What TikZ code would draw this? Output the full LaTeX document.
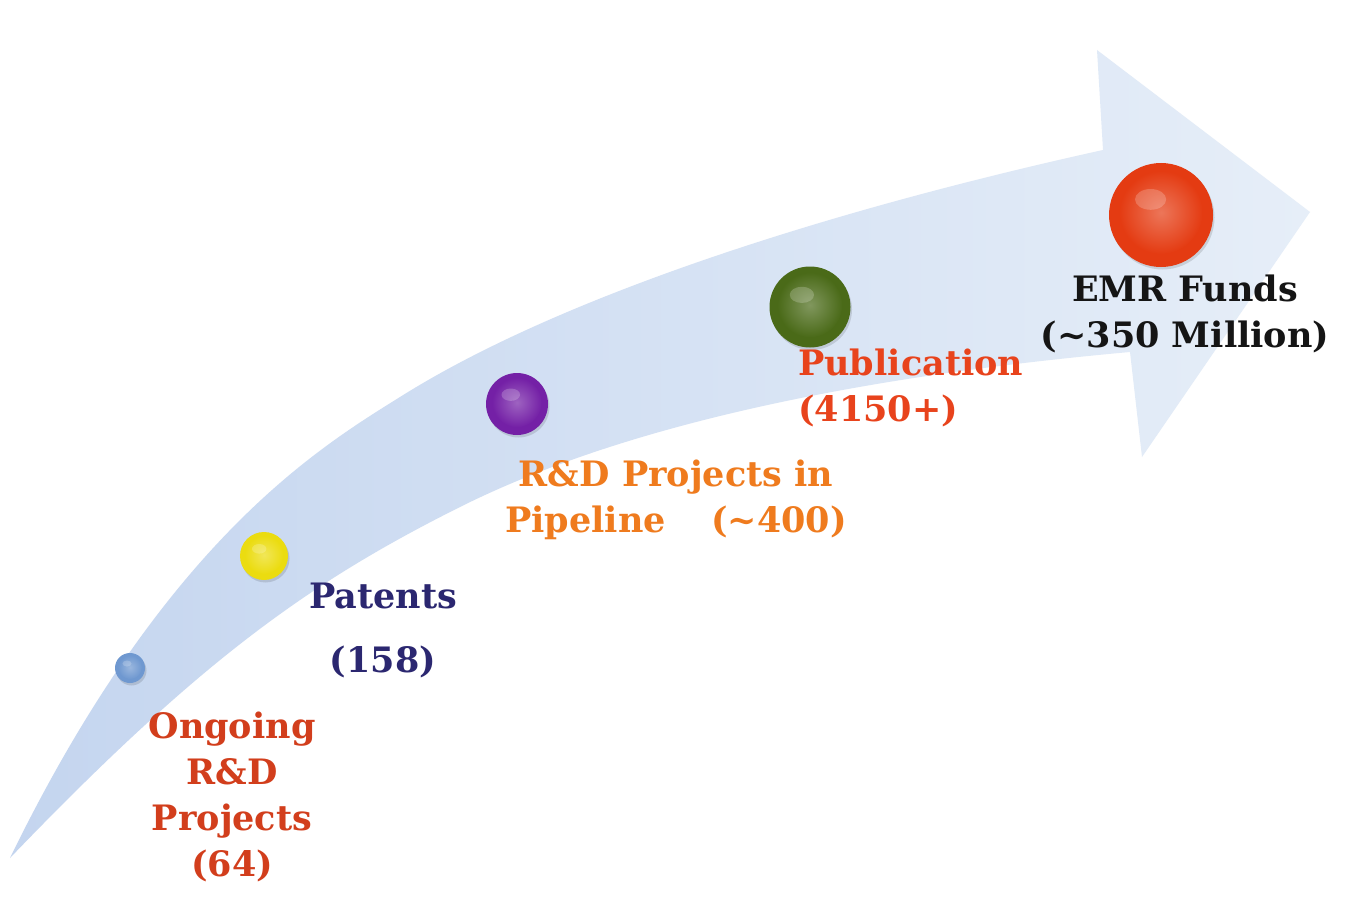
\documentclass[tikz,border=0pt]{standalone}
\usepackage{fontspec}
\setmainfont{DejaVu Serif}
\usetikzlibrary{calc}
\definecolor{bandL}{HTML}{C4D5EF}
\definecolor{bandR}{HTML}{E6EEF8}
\definecolor{cOngo}{HTML}{D23E1C}
\definecolor{cPat}{HTML}{2B2770}
\definecolor{cPipe}{HTML}{EF7B1E}
\definecolor{cPub}{HTML}{E8431C}
\definecolor{cEmr}{HTML}{151515}
\definecolor{bBlue}{HTML}{6F98D0}
\definecolor{bYellow}{HTML}{EBDC10}
\definecolor{bPurple}{HTML}{7420A6}
\definecolor{bGreen}{HTML}{4A6A18}
\definecolor{bRed}{HTML}{E43B12}
\newcommand\bead[4]{%
  \fill[black, opacity=.12] ($(#2)+(1.5,2.5)$) circle (#3);
  \node[circle, inner sep=0pt, minimum size={2*#3pt}, fill=#4] (#1) at (#2) {};
  \shade[inner color=#4!70!white, outer color=#4] ($(#2)+(0,-0.05*#3)$) circle ({0.8*#3});
  \fill[white, opacity=.2] ($(#2)+(-0.2*#3,-0.3*#3)$) ellipse ({0.3*#3} and {0.2*#3});
}
\tikzset{
  lbl/.style={font=\fontsize{35}{46}\selectfont\bfseries, inner sep=0pt, align=center},
}
\begin{document}
\begin{tikzpicture}[x=1pt, y=-1pt]
\useasboundingbox (0,0) rectangle (1364,904);
\fill[white] (0,0) rectangle (1364,904);
% curved arrow
\shade[left color=bandL, right color=bandR]
  (10,858) .. controls (165,540) and (320,447) .. (400,397)
  .. controls (570,290) and (853,205) .. (1103,150)
  -- (1097,50) -- (1310,212) -- (1142,457) -- (1130,352)
  .. controls (830,379) and (610,432) .. (460,507)
  .. controls (310,582) and (200,660) .. (10,858)
  -- cycle;
% beads
\bead{b1}{130,668}{15}{bBlue}
\bead{b2}{264,556}{24}{bYellow}
\bead{b3}{517,404}{31}{bPurple}
\bead{b4}{810,307}{40.5}{bGreen}
\bead{b5}{1161,215}{52}{bRed}
% labels
\node[lbl, text=cOngo] (t1) at (232,797) {Ongoing\\R\&D\\Projects\\(64)};
\node[lbl, text=cPat] (t2) at (383,630) {Patents\\[18pt](158)};
\node[lbl, text=cPipe] (t3) at (676,500) {R\&D Projects in\\Pipeline\hspace{1.3em}(\textasciitilde400)};
\node[lbl, text=cPub, anchor=west, align=left] (t4) at (798,388) {Publication\\(4150+)};
\node[lbl, text=cEmr] (t5) at (1185,314) {EMR Funds\\(\textasciitilde350 Million)};
\end{tikzpicture}
\end{document}
